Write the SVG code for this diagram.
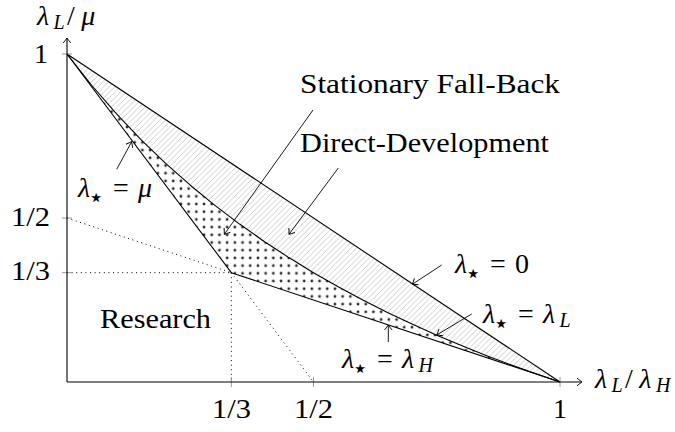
<svg xmlns="http://www.w3.org/2000/svg" width="675" height="432" viewBox="0 0 675 432">
<defs>
<style>
text{font-family:'Liberation Serif','Times New Roman',serif;font-size:28px;fill:#000}
.i{font-style:italic}
.sub{font-size:20px;font-style:italic}
.st{font-family:'DejaVu Sans',sans-serif;font-size:26px;font-style:normal}
.ln{fill:none;stroke:#000;stroke-width:1.1;stroke-linejoin:round}
.ax{fill:none;stroke:#000;stroke-width:1.1}
.tk{fill:none;stroke:#8c8c8c;stroke-width:0.9}
.dt{fill:none;stroke:#000;stroke-width:1;stroke-dasharray:1 3.6}
.ar{fill:none;stroke:#000;stroke-width:0.9}
</style>
<pattern id="hatch" patternUnits="userSpaceOnUse" width="5.6" height="5.6">
<path d="M-1,1 L1,-1 M0,5.6 L5.6,0 M4.6,6.6 L6.6,4.6" stroke="#bdbdbd" stroke-width="0.75"/>
</pattern>
<pattern id="dots" patternUnits="userSpaceOnUse" width="7.7" height="7.7">
<circle cx="3.85" cy="3.85" r="1.4" fill="#2a2a2a"/>
</pattern>
<marker id="ah" viewBox="-7 -5 9 10" markerWidth="9" markerHeight="10" refX="0" refY="0" orient="auto" markerUnits="userSpaceOnUse">
<path d="M-5,-3.8 Q-1.5,-1 0,0 Q-1.5,1 -5,3.8" fill="none" stroke="#000" stroke-width="0.9"/>
</marker>
</defs>

<g id="regions">
<path id="direct-development-region" fill="url(#hatch)" d="M67,54 L560,382 L535.35,373.59 L510.7,364.74 L486.05,355.41 L461.4,345.56 L436.75,335.14 L412.1,324.12 L387.45,312.42 L362.8,300 L338.15,286.77 L313.5,272.67 L288.85,257.59 L264.2,241.43 L239.55,224.07 L214.9,205.38 L190.25,185.2 L165.6,163.33 L140.95,139.57 L116.3,113.64 L91.65,85.24 Z"/>
<path id="stationary-region" fill="url(#dots)" d="M67,54 L91.65,85.24 L116.3,113.64 L140.95,139.57 L165.6,163.33 L190.25,185.2 L214.9,205.38 L239.55,224.07 L264.2,241.43 L288.85,257.59 L313.5,272.67 L338.15,286.77 L362.8,300 L387.45,312.42 L412.1,324.12 L436.75,335.14 L461.4,345.56 L486.05,355.41 L510.7,364.74 L535.35,373.59 L560,382 L231.33,272.67 Z"/>
</g>

<g id="guides">
<path class="dt" d="M67,218 L231.33,272.67"/>
<path class="dt" d="M67,272.67 L231.33,272.67"/>
<path class="dt" d="M231.33,272.67 L231.33,382"/>
<path class="dt" d="M231.33,272.67 L313.5,382"/>
</g>

<g id="boundaries">
<path id="lambda-zero" class="ln" d="M67,54 L560,382"/>
<path id="lambda-L" class="ln" d="M67,54 L91.65,85.24 L116.3,113.64 L140.95,139.57 L165.6,163.33 L190.25,185.2 L214.9,205.38 L239.55,224.07 L264.2,241.43 L288.85,257.59 L313.5,272.67 L338.15,286.77 L362.8,300 L387.45,312.42 L412.1,324.12 L436.75,335.14 L461.4,345.56 L486.05,355.41 L510.7,364.74 L535.35,373.59 L560,382"/>
<path id="research-boundary" class="ln" d="M67,54 L231.33,272.67 L560,382"/>
</g>

<g id="axes">
<path class="tk" d="M62,54 H72 M62,218 H72 M62,272.67 H72 M231.33,377 V387 M313.5,377 V387 M560,377 V387"/>
<path class="ax" d="M67,382 V38" marker-end="url(#ah)"/>
<path class="ax" d="M67,382 H582" marker-end="url(#ah)"/>
<text x="37" y="25"><tspan class="i">λ</tspan><tspan class="sub" x="53.6" y="29">L</tspan><tspan x="67" y="25">/</tspan><tspan class="i" x="81.3" y="25">μ</tspan></text>
<text x="595" y="388"><tspan class="i">λ</tspan><tspan class="sub" x="611.6" y="392">L</tspan><tspan x="625.1" y="388">/</tspan><tspan class="i" x="639.3" y="388">λ</tspan><tspan class="sub" x="655.9" y="392">H</tspan></text>
<text x="34" y="63">1</text>
<text x="11" y="226" textLength="39" lengthAdjust="spacingAndGlyphs">1/2</text>
<text x="11" y="280" textLength="39" lengthAdjust="spacingAndGlyphs">1/3</text>
<text x="212" y="418" textLength="39" lengthAdjust="spacingAndGlyphs">1/3</text>
<text x="294" y="418" textLength="39" lengthAdjust="spacingAndGlyphs">1/2</text>
<text x="553" y="418">1</text>
</g>

<g id="connectors">
<path class="ar" d="M313,110 L224.3,234.3" marker-end="url(#ah)"/>
<path class="ar" d="M338.3,168 L289,234.3" marker-end="url(#ah)"/>
<path class="ar" d="M116.7,169.3 L131.7,141.7" marker-end="url(#ah)"/>
<path class="ar" d="M441.7,265 L412.3,284.3" marker-end="url(#ah)"/>
<path class="ar" d="M471.7,314 L436.7,335" marker-end="url(#ah)"/>
<path class="ar" d="M388.3,342 L388.3,325" marker-end="url(#ah)"/>
</g>

<g id="node-stationary"><text x="300" y="93" textLength="260" lengthAdjust="spacingAndGlyphs">Stationary Fall-Back</text></g>
<g id="node-direct"><text x="300" y="152" textLength="249" lengthAdjust="spacingAndGlyphs">Direct-Development</text></g>
<g id="node-research"><text x="100" y="328" textLength="111" lengthAdjust="spacingAndGlyphs">Research</text></g>
<g id="node-mu"><text x="78" y="197"><tspan class="i">λ</tspan><tspan class="st" x="88" y="206">⋆</tspan><tspan x="113" y="197">=</tspan><tspan class="i" x="138" y="197">μ</tspan></text></g>
<g id="node-zero"><text x="455" y="273"><tspan class="i">λ</tspan><tspan class="st" x="465" y="282">⋆</tspan><tspan x="490" y="273">=</tspan><tspan x="515" y="273">0</tspan></text></g>
<g id="node-L"><text x="483" y="323"><tspan class="i">λ</tspan><tspan class="st" x="493" y="332">⋆</tspan><tspan x="518" y="323">=</tspan><tspan class="i" x="543" y="323">λ</tspan><tspan class="sub" x="559.6" y="327">L</tspan></text></g>
<g id="node-H"><text x="342" y="368"><tspan class="i">λ</tspan><tspan class="st" x="352" y="377">⋆</tspan><tspan x="377" y="368">=</tspan><tspan class="i" x="402" y="368">λ</tspan><tspan class="sub" x="418.6" y="372">H</tspan></text></g>
</svg>
